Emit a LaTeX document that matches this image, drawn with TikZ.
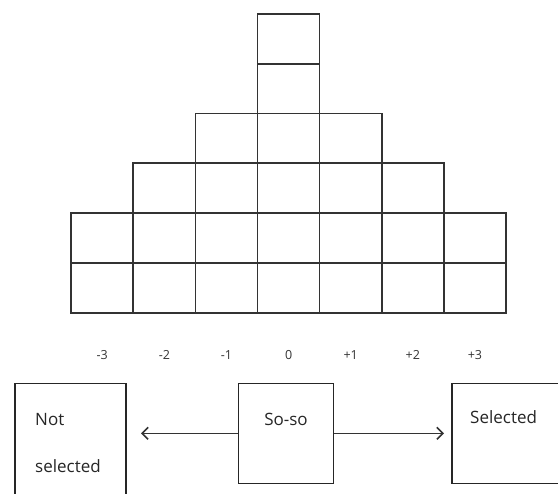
\documentclass[tikz,border=0pt]{standalone}
\usepackage{fontspec}
\setmainfont{Open Sans}
\usetikzlibrary{arrows.meta}
\begin{document}
\begin{tikzpicture}[x=1pt,y=-1pt,
  gridline/.style={line width=1.7pt, draw=black!80},
  box/.style={draw=black!85, line width=1.5pt, rectangle, inner sep=0pt},
  lbl/.style={font=\fontsize{12.5}{14}\selectfont, text=black!80, inner sep=0pt},
  boxtxt/.style={font=\fontsize{17}{20}\selectfont, text=black!85, inner sep=0pt},
  arr/.style={line width=1.5pt, draw=black!80, -{Straight Barb[length=6pt,width=12pt,line width=1.6pt]}}]
\useasboundingbox (0,0) rectangle (558,494);
\fill[white] (0,0) rectangle (558,494);
\begin{scope}
\clip (0,0) rectangle (558,494);
% pyramid grid
\foreach \j/\a/\b in {0/3/3,1/3/3,2/2/4,3/1/5,4/0/6,5/0/6}
  \foreach \i in {\a,...,\b}
    \draw[gridline] ({71.2+62.11*\i},{14+49.78*\j}) rectangle ++(62.11,49.78);
% scale labels
\foreach \i/\t in {0/-3,1/-2,2/-1,3/0,4/+1,5/+2,6/+3}
  \node[lbl] (lab\i) at ({102.3+62.11*\i},355) {\t};
% boxes
\node[box, minimum width=111pt, minimum height=140pt] (notsel) at (70.5,453.3) {};
\node[box, minimum width=95pt, minimum height=100pt] (soso) at (286,433.3) {};
\node[box, minimum width=150pt, minimum height=100pt] (sel) at (527,433.3) {};
% texts
\node[boxtxt, anchor=west] (tnot) at (35,420) {Not};
\node[boxtxt, anchor=base west] (tsel) at (35,473) {selected};
\node[boxtxt] (tsoso) at (286,419) {So-so};
\node[boxtxt, anchor=west] (tselected) at (470,417) {Selected};
% arrows
\coordinate (ltip) at (141,433.3);
\coordinate (rtip) at (444,433.3);
\draw[arr] (soso.west) -- (ltip);
\draw[arr] (soso.east) -- (rtip);
\end{scope}
\end{tikzpicture}
\end{document}
